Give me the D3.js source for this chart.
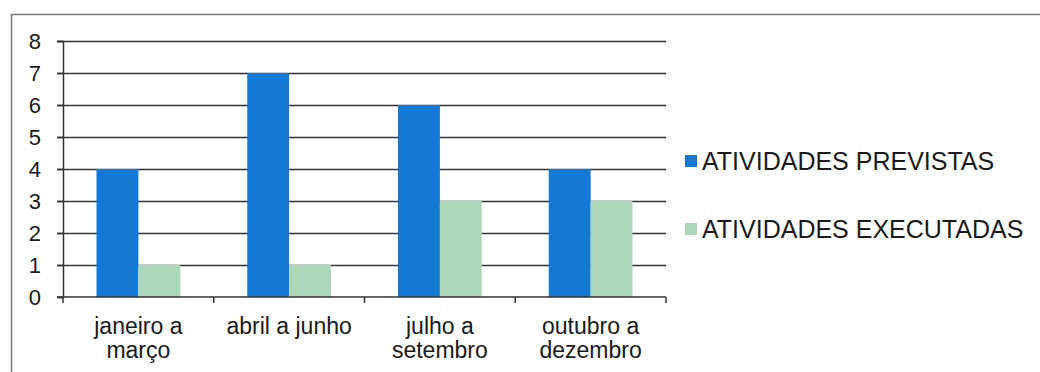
<!DOCTYPE html>
<html>
<head>
<meta charset="utf-8">
<script src="https://cdn.jsdelivr.net/npm/d3@7"></script>
<style>
  html, body { margin: 0; padding: 0; background: #fff; }
  svg { display: block; }
  text { font-family: "Liberation Sans", Arial, sans-serif; fill: #1a1a1a; }
</style>
</head>
<body>
<svg id="chart" width="1040" height="372"></svg>
<script>
// Quarterly planned vs. executed activities
const categories = [["janeiro a", "março"], ["abril a junho"], ["julho a", "setembro"], ["outubro a", "dezembro"]];
const seriesNames = ["ATIVIDADES PREVISTAS", "ATIVIDADES EXECUTADAS"];
const previstas = [4, 7, 6, 4];
const executadas = [1, 1, 3, 3];
const yTicks = [0, 1, 2, 3, 4, 5, 6, 7, 8];
const colors = ["#1379d2", "#aad8b9"];

const svg = d3.select("#chart");
const margin = { left: 63, right: 666, top: 41, bottom: 297 };

// outer frame (top and left edges)
svg.append("path")
  .attr("d", "M11.5,372 V14.5 H1040")
  .attr("fill", "none")
  .attr("stroke", "#7a7a7a")
  .attr("stroke-width", 1.5);

const keys = categories.map((c, i) => i);
const x0 = d3.scaleBand().domain(keys).range([margin.left, margin.right]).paddingInner(0).paddingOuter(0);
const x1 = d3.scaleBand().domain([0, 1]).range([0, x0.bandwidth()]).paddingInner(0).paddingOuter(0.8);
const y = d3.scaleLinear().domain([0, 8]).range([margin.bottom, margin.top]);

// horizontal gridlines
const grid = svg.append("g");
grid.selectAll("line").data(yTicks.filter(d => d > 0)).join("line")
  .attr("x1", margin.left - 6).attr("x2", margin.right)
  .attr("y1", d => Math.round(y(d)) + 0.5).attr("y2", d => Math.round(y(d)) + 0.5)
  .attr("stroke", "#333").attr("stroke-width", 1.5);

// bars
const groups = svg.append("g").selectAll("g").data(keys).join("g")
  .attr("transform", d => `translate(${x0(d)},0)`);
groups.selectAll("rect")
  .data(d => [previstas[d], executadas[d]].map((v, s) => ({ v, s })))
  .join("rect")
  .attr("x", d => x1(d.s))
  .attr("width", x1.bandwidth())
  .attr("y", d => y(d.v))
  .attr("height", d => y(0) - y(d.v))
  .attr("fill", d => colors[d.s]);

// y axis
const yAxis = svg.append("g").attr("transform", `translate(${margin.left},0)`)
  .call(d3.axisLeft(y).tickValues(yTicks).tickSize(6).tickPadding(16).tickFormat(d3.format("d")));
yAxis.select(".domain").attr("stroke", "#333").attr("stroke-width", 1.5);
yAxis.selectAll(".tick line").attr("stroke", "#333").attr("stroke-width", 1.5);
yAxis.selectAll("text").attr("font-size", 22).attr("font-family", "Liberation Sans, Arial, sans-serif").attr("fill", "#1a1a1a");

// x axis
const xBoundaries = keys.map(k => x0(k)).concat([margin.right]);
const xAxisG = svg.append("g");
xAxisG.append("line")
  .attr("x1", margin.left - 6).attr("x2", margin.right)
  .attr("y1", y(0)).attr("y2", y(0))
  .attr("stroke", "#333").attr("stroke-width", 1.5);
xAxisG.selectAll("line.tk").data(xBoundaries).join("line").attr("class", "tk")
  .attr("x1", d => d).attr("x2", d => d)
  .attr("y1", y(0)).attr("y2", y(0) + 6)
  .attr("stroke", "#333").attr("stroke-width", 1.5);

// category labels
const labels = xAxisG.selectAll("text").data(keys).join("text")
  .attr("text-anchor", "middle")
  .attr("font-size", 23);
labels.each(function (k) {
  const t = d3.select(this);
  categories[k].forEach((line, i) => {
    t.append("tspan")
      .attr("x", x0(k) + x0.bandwidth() / 2)
      .attr("y", 334 + i * 24)
      .text(line);
  });
});

// legend
const legend = svg.append("g").selectAll("g").data(seriesNames).join("g")
  .attr("transform", (d, i) => `translate(685,${161 + i * 68})`);
legend.append("rect").attr("x", 0).attr("y", -6).attr("width", 12).attr("height", 12)
  .attr("fill", (d, i) => colors[i]);
legend.append("text").attr("x", 17).attr("y", 0).attr("dy", "0.36em")
  .attr("font-size", 25).text(d => d);
</script>
</body>
</html>
